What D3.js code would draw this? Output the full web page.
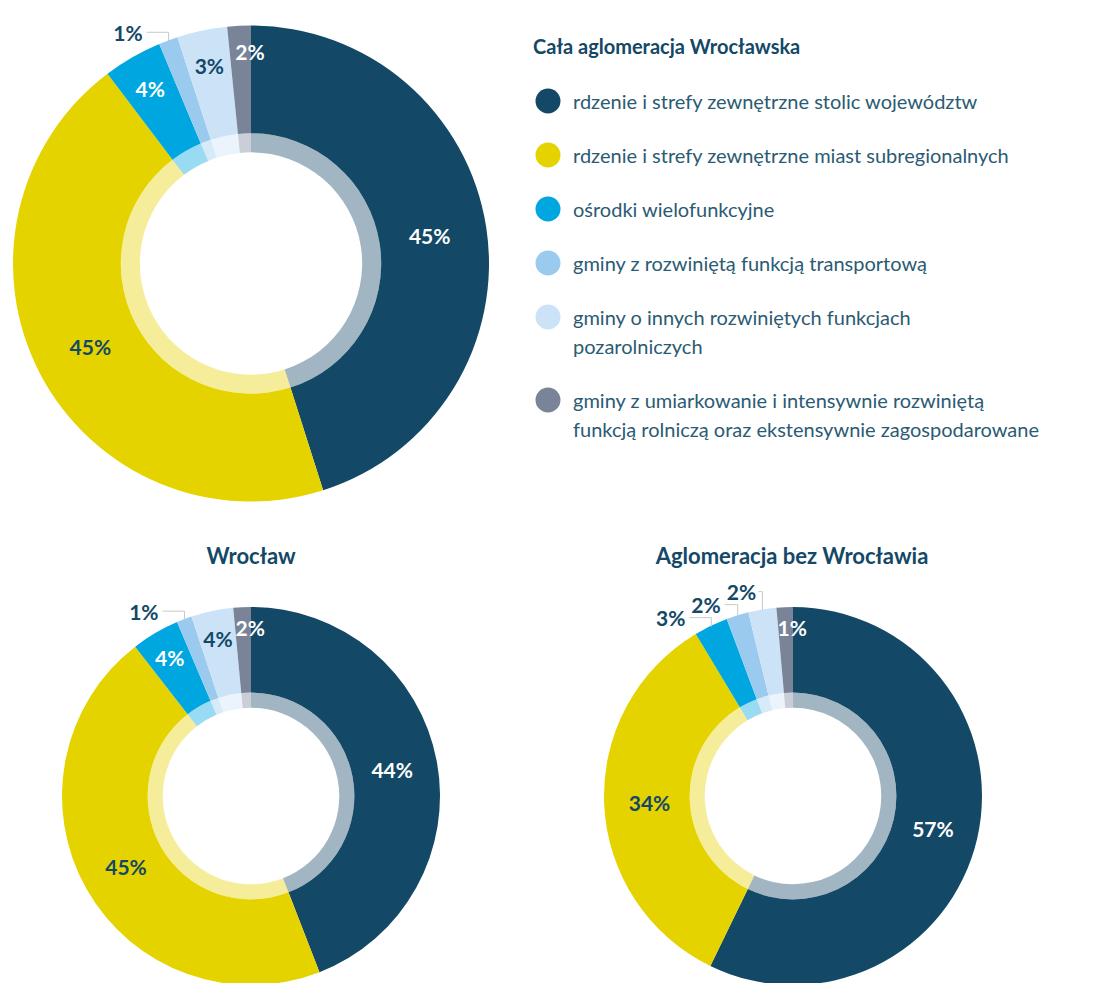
<!DOCTYPE html>
<html>
<head>
<meta charset="utf-8">
<script src="https://cdn.jsdelivr.net/npm/d3@7"></script>
<style>
  body { margin: 0; background: #fff; }
  text { font-family: Lato, "Open Sans", sans-serif; }
</style>
</head>
<body>
<div id="chart"></div>
<script>
// categories (legend order = slice order, clockwise from 12 o'clock)
const categories = [
  "rdzenie i strefy zewnętrzne stolic województw",
  "rdzenie i strefy zewnętrzne miast subregionalnych",
  "ośrodki wielofunkcyjne",
  "gminy z rozwiniętą funkcją transportową",
  "gminy o innych rozwiniętych funkcjach\npozarolniczych",
  "gminy z umiarkowanie i intensywnie rozwiniętą\nfunkcją rolniczą oraz ekstensywnie zagospodarowane"
];
const colors = ["#134866", "#e5d300", "#00a6df", "#9acbee", "#cce3f7", "#7a8499"];
const titles = ["Cała aglomeracja Wrocławska", "Wrocław", "Aglomeracja bez Wrocławia"];

// shares and printed labels
const valuesAll     = [45.1, 44.6, 4.0, 1.3, 3.4, 1.6];
const valuesWroclaw = [44.1, 45.4, 4.1, 1.3, 3.6, 1.5];
const valuesBez     = [57.2, 34.2, 2.9, 1.9, 2.4, 1.4];
const labelsAll     = ["45%", "45%", "4%", "1%", "3%", "2%"];
const labelsWroclaw = ["44%", "45%", "4%", "1%", "4%", "2%"];
const labelsBez     = ["57%", "34%", "3%", "2%", "2%", "1%"];

const width = 1095, height = 983;
const navy = "#134866", textCol = "#2b5b73";
const darkText = new Set([1, 4]); // slices with dark label text
const labelSize = 21;

const svg = d3.select("#chart").append("svg")
  .attr("width", width)
  .attr("height", height);

const pie = d3.pie().sort(null).value(d => d);

function donut(values, labels, cx, cy, R) {
  const g = svg.append("g").attr("transform", `translate(${cx},${cy})`);
  const arcs = pie(values);
  const outer = d3.arc().innerRadius(R * 0.547).outerRadius(R);
  const inner = d3.arc().innerRadius(R * 0.467).outerRadius(R * 0.547);
  const last = values.length - 1;

  g.selectAll("path.outer")
    .data(arcs)
    .join("path")
    .attr("class", "outer")
    .attr("d", outer)
    .attr("fill", (d, i) => colors[i]);

  g.selectAll("path.inner")
    .data(arcs)
    .join("path")
    .attr("class", "inner")
    .attr("d", inner)
    .attr("fill", (d, i) => colors[i])
    .attr("fill-opacity", 0.4);

  const mid = d => (d.startAngle + d.endAngle) / 2;
  const isOutside = (d, i) => d.value < 3 && i < last;

  // labels inside the ring (the last, thin slice gets its label at its closing edge)
  g.selectAll("text.in")
    .data(arcs.filter((d, i) => !isOutside(d, i)))
    .join("text")
    .attr("class", "in")
    .each(function(d) {
      const i = d.index;
      const r = d.value >= 10 ? R * 0.76 : (i === last ? R * 0.89 : R * 0.85);
      const a = i === last ? d.endAngle - 0.005 : mid(d);
      d3.select(this)
        .attr("x", Math.sin(a) * r)
        .attr("y", -Math.cos(a) * r)
        .attr("fill", darkText.has(i) ? navy : "#fff")
        .text(labels[i]);
    })
    .attr("text-anchor", "middle")
    .attr("dominant-baseline", "central")
    .attr("font-size", labelSize)
    .attr("font-weight", 700);

  // labels outside, with elbow leader lines; kept apart from each other
  let prevY = Infinity, prevRight = -Infinity;
  arcs.filter((d, i) => isOutside(d, i)).forEach(d => {
    const a = mid(d);
    const px = Math.sin(a) * (R - 1), py = -Math.cos(a) * (R - 1);
    let ly = Math.min(py - 9, prevY - 13);
    prevY = ly;
    const t = g.append("text")
      .attr("y", ly)
      .attr("text-anchor", "start")
      .attr("dominant-baseline", "central")
      .attr("font-size", labelSize)
      .attr("font-weight", 700)
      .attr("fill", navy)
      .text(labels[d.index]);
    const w = t.node().getComputedTextLength();
    let left = px - 22 - 4 - w;
    if (left < prevRight + 6) left = prevRight + 6;
    const right = left + w;
    prevRight = right;
    const lx = Math.min(right + 4, px - 4);
    t.attr("x", left);
    g.append("path")
      .attr("d", `M${lx},${ly}H${px}V${py}`)
      .attr("fill", "none")
      .attr("stroke", "#c9c9c9")
      .attr("stroke-width", 1);
  });
}

donut(valuesAll, labelsAll, 251, 263.5, 238);
donut(valuesWroclaw, labelsWroclaw, 251, 796, 189);
donut(valuesBez, labelsBez, 793, 796, 189);

// chart titles
svg.append("text")
  .attr("x", 533).attr("y", 46)
  .attr("dominant-baseline", "central")
  .attr("font-size", 20).attr("font-weight", 700)
  .attr("fill", navy)
  .text(titles[0]);

[[251, titles[1]], [792, titles[2]]].forEach(([x, t]) => {
  svg.append("text")
    .attr("x", x).attr("y", 555)
    .attr("text-anchor", "middle")
    .attr("dominant-baseline", "central")
    .attr("font-size", 22).attr("font-weight", 700)
    .attr("fill", navy)
    .text(t);
});

// legend
const legend = svg.append("g");
let ly = 101;
categories.forEach((c, i) => {
  const lines = c.split("\n");
  legend.append("circle")
    .attr("cx", 548).attr("cy", ly).attr("r", 12.5)
    .attr("fill", colors[i]);
  const t = legend.append("text")
    .attr("x", 573).attr("y", ly)
    .attr("font-size", 20)
    .attr("fill", textCol)
    .attr("dominant-baseline", "central");
  lines.forEach((ln, j) => {
    t.append("tspan")
      .attr("x", 573)
      .attr("y", ly + j * 29)
      .text(ln);
  });
  ly += 54 + 29 * (lines.length - 1);
});
</script>
</body>
</html>
